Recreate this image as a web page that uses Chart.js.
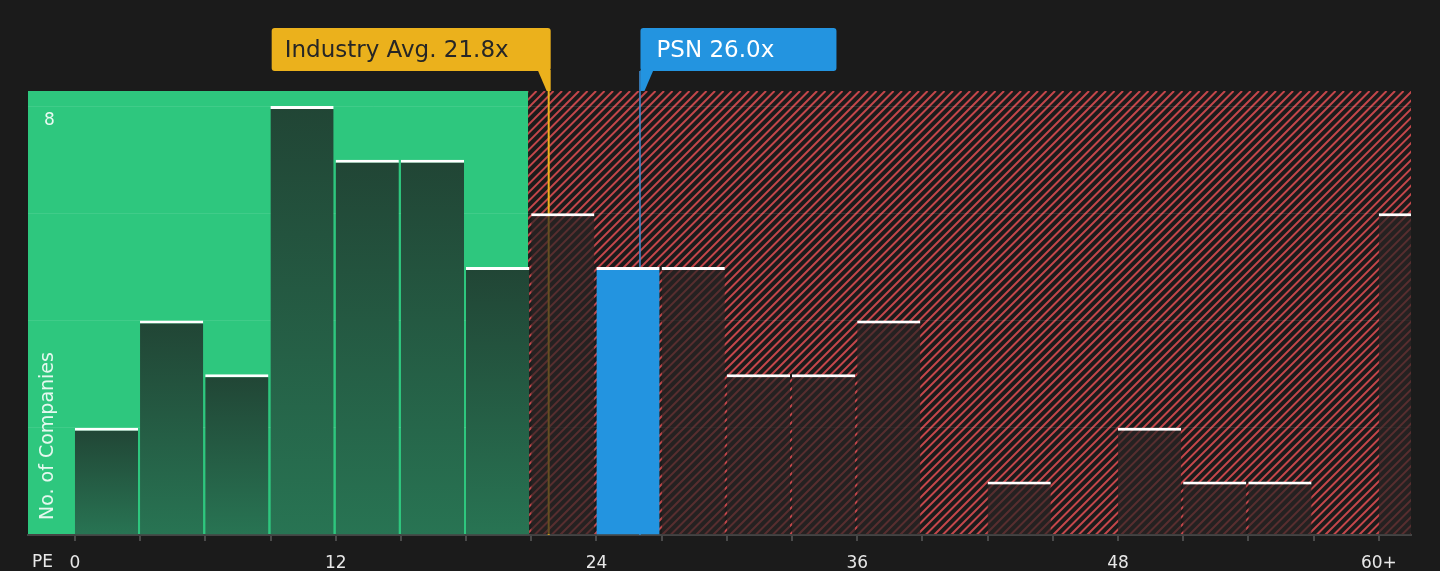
<!DOCTYPE html>
<html>
<head>
<meta charset="utf-8">
<script src="https://cdn.jsdelivr.net/npm/chart.js@4/dist/chart.umd.min.js"></script>
<style>
  html, body { margin: 0; padding: 0; background: #1b1b1b; }
  canvas { display: block; }
</style>
</head>
<body>
<canvas id="graphique-pe" width="1440" height="571"></canvas>
<script>
// Tranches de PE (début de chaque tranche de 3) et nombre d'entreprises par tranche
const bornesPE = [0, 3, 6, 9, 12, 15, 18, 21, 24, 27, 30, 33, 36, 39, 42, 45, 48, 51, 54, 57, 60]
const nbEntreprises = [2, 4, 3, 8, 7, 7, 5, 6, 5, 5, 3, 3, 4, 0, 1, 0, 2, 1, 1, 0, 6]

// Graduations affichées sous l'axe
const ticksPE = [0, 12, 24, 36, 48, 60]
const labelsPE = ["0", "12", "24", "36", "48", "60+"]

// Repères
const moyenneIndustrie = 21.8
const pePSN = 26.0
const nomSociete = "PSN"
const limiteVerte = 20.85 //fin de la zone verte

const police = "DejaVu Sans"

function couleurBarre(context) {
    const i = context.dataIndex
    const debut = bornesPE[i]
    if (pePSN >= debut && pePSN < debut + 3) return "#2394e0" //la barre de la société
    if (debut + 1.5 < limiteVerte) {
        const chart = context.chart
        if (!chart.chartArea) return "#245c43"
        const y = chart.scales.y
        const haut = y.getPixelForValue(nbEntreprises[i])
        const bas = y.getPixelForValue(0)
        if (!isFinite(haut) || bas - haut < 1) return "#245c43"
        const degrade = chart.ctx.createLinearGradient(0, haut, 0, bas)
        degrade.addColorStop(0, "#214535")
        degrade.addColorStop(1, "#287453")
        return degrade
    }
    return "rgba(42, 36, 36, 0.7)"
}

function boite(ctx, x, y, l, h, r) {
    ctx.beginPath()
    ctx.moveTo(x + r, y)
    ctx.lineTo(x + l - r, y)
    ctx.quadraticCurveTo(x + l, y, x + l, y + r)
    ctx.lineTo(x + l, y + h - r)
    ctx.quadraticCurveTo(x + l, y + h, x + l - r, y + h)
    ctx.lineTo(x + r, y + h)
    ctx.quadraticCurveTo(x, y + h, x, y + h - r)
    ctx.lineTo(x, y + r)
    ctx.quadraticCurveTo(x, y, x + r, y)
    ctx.closePath()
    ctx.fill()
}

// Fond vert / hachures rouges, lignes verticales et étiquettes
const decor = {
    id: "decor",
    beforeDraw(chart) {
        const ctx = chart.ctx
        const zone = chart.chartArea
        const x = chart.scales.x
        ctx.save()
        ctx.fillStyle = "#1b1b1b"
        ctx.fillRect(0, 0, chart.width, chart.height)
        const xLimite = x.getPixelForValue(limiteVerte)
        ctx.fillStyle = "#2ec77e"
        ctx.fillRect(zone.left, zone.top, xLimite - zone.left, zone.bottom - zone.top)

        ctx.beginPath()
        ctx.rect(xLimite, zone.top, zone.right - xLimite, zone.bottom - zone.top)
        ctx.clip()
        ctx.strokeStyle = "#c4474b"
        ctx.lineWidth = 2
        const h = zone.bottom - zone.top
        for (let d = xLimite - h; d < zone.right + 5; d += 8.5) {
            ctx.beginPath()
            ctx.moveTo(d, zone.bottom)
            ctx.lineTo(d + h, zone.top)
            ctx.stroke()
        }
        ctx.restore()
    },
    beforeDatasetsDraw(chart) {
        const ctx = chart.ctx
        const zone = chart.chartArea
        const x = chart.scales.x
        ctx.save()
        const xMoy = x.getPixelForValue(moyenneIndustrie)
        ctx.strokeStyle = "#ebb11c"
        ctx.lineWidth = 2
        ctx.beginPath()
        ctx.moveTo(xMoy, 71)
        ctx.lineTo(xMoy, zone.bottom)
        ctx.stroke()

        const xPSN = x.getPixelForValue(pePSN)
        ctx.strokeStyle = "#3f8fd6"
        ctx.lineWidth = 1.5
        ctx.beginPath()
        ctx.moveTo(xPSN, 71)
        ctx.lineTo(xPSN, zone.bottom)
        ctx.stroke()
        ctx.restore()
    },
    afterDraw(chart) {
        const ctx = chart.ctx
        const zone = chart.chartArea
        const x = chart.scales.x
        const y = chart.scales.y
        ctx.save()

        // étiquette moyenne de l'industrie
        const xMoy = x.getPixelForValue(moyenneIndustrie)
        const droite = xMoy + 2
        ctx.fillStyle = "#ebb11c"
        boite(ctx, droite - 279, 28, 279, 43, 3)
        ctx.beginPath()
        ctx.moveTo(droite - 13, 70)
        ctx.lineTo(droite, 70)
        ctx.lineTo(droite, zone.top)
        ctx.lineTo(droite - 4, zone.top)
        ctx.closePath()
        ctx.fill()
        ctx.fillStyle = "#262626"
        ctx.font = "23px '" + police + "'"
        ctx.textBaseline = "middle"
        ctx.textAlign = "left"
        ctx.fillText("Industry Avg. " + moyenneIndustrie.toFixed(1) + "x", droite - 266, 51)

        // étiquette de la société
        const xPSN = x.getPixelForValue(pePSN)
        const gauche = xPSN + 0.5
        ctx.fillStyle = "#2394e0"
        boite(ctx, gauche, 28, 196, 43, 3)
        ctx.beginPath()
        ctx.moveTo(gauche, 70)
        ctx.lineTo(gauche + 13, 70)
        ctx.lineTo(gauche + 4, zone.top)
        ctx.lineTo(gauche, zone.top)
        ctx.closePath()
        ctx.fill()
        ctx.fillStyle = "#ffffff"
        ctx.fillText(nomSociete + " " + pePSN.toFixed(1) + "x", gauche + 16, 51)

        // "8" en haut à gauche, titre de l'axe et "PE"
        ctx.fillStyle = "rgba(255, 255, 255, 0.9)"
        ctx.font = "17px '" + police + "'"
        ctx.fillText("8", zone.left + 16, y.getPixelForValue(8) + 15)
        ctx.fillStyle = "#e8e8e8"
        ctx.fillText("PE", 32, 563)

        ctx.translate(48, zone.bottom - 15)
        ctx.rotate(-Math.PI / 2)
        ctx.fillStyle = "rgba(255, 255, 255, 0.88)"
        ctx.font = "19px '" + police + "'"
        ctx.fillText("No. of Companies", 0, 0)
        ctx.restore()
    }
}

const donnees = bornesPE.map((debut, i) => ({ x: debut + 1.45, y: nbEntreprises[i] }))

const config = {
    type: "bar",
    data: {
        datasets: [{
            label: "No. of Companies",
            data: donnees,
            backgroundColor: couleurBarre,
            borderColor: "#ffffff",
            borderWidth: (context) => nbEntreprises[context.dataIndex] > 0 ? { top: 3, right: 0, bottom: 0, left: 0 } : 0,
            borderSkipped: false,
            barPercentage: 0.97,
            categoryPercentage: 1,
            grouped: false
        }]
    },
    options: {
        responsive: false,
        animation: false,
        devicePixelRatio: 1,
        layout: { padding: { top: 91, left: 28, right: 29, bottom: 0 } },
        plugins: {
            legend: { display: false },
            tooltip: { enabled: false }
        },
        scales: {
            x: {
                type: "linear",
                offset: false,
                min: -2.16,
                max: 61.48,
                afterFit: (scale) => { scale.height = 36 },
                ticks: {
                    stepSize: 3,
                    includeBounds: false,
                    autoSkip: false,
                    maxRotation: 0,
                    padding: 12,
                    color: "#e8e8e8",
                    font: { family: police, size: 17 },
                    callback: (valeur) => {
                        const i = ticksPE.indexOf(valeur)
                        return i >= 0 ? labelsPE[i] : ""
                    }
                },
                grid: {
                    offset: false,
                    drawOnChartArea: false,
                    drawTicks: true,
                    tickLength: 6,
                    color: "#4a4a4a",
                    lineWidth: 2
                },
                border: { color: "#444444", width: 2 }
            },
            y: {
                min: 0,
                max: 8.28,
                ticks: { display: false, stepSize: 2, includeBounds: false },
                grid: { color: "rgba(255, 255, 255, 0.09)", drawTicks: false, lineWidth: 1 },
                border: { display: false }
            }
        }
    },
    plugins: [decor]
}

new Chart(document.querySelector("#graphique-pe"), config)
</script>
</body>
</html>
